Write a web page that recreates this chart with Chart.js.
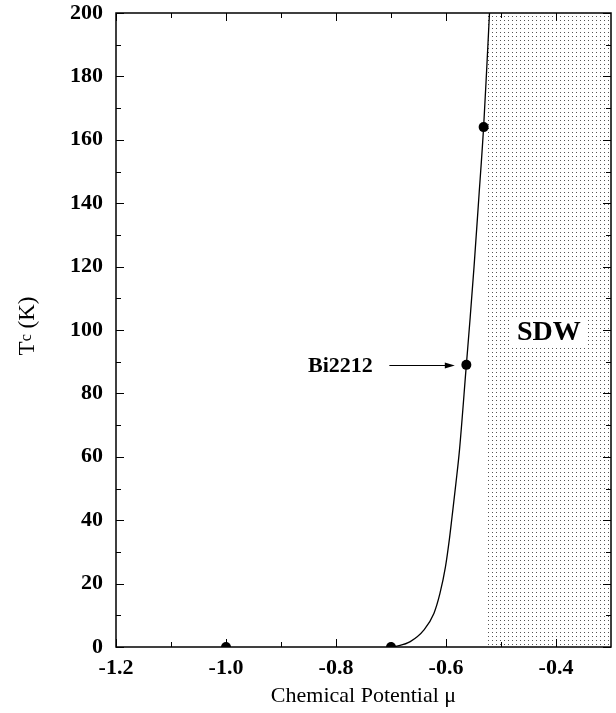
<!DOCTYPE html>
<html>
<head>
<meta charset="utf-8">
<script src="https://cdn.jsdelivr.net/npm/chart.js@4.4.1/dist/chart.umd.min.js"></script>
<style>
  html, body { margin: 0; padding: 0; background: #fff; }
</style>
</head>
<body>
<canvas id="tcChart" width="616" height="713"></canvas>
<script>
// Tc against chemical potential
const curveMu = [-0.700, -0.689, -0.665, -0.640, -0.622, -0.611, -0.601, -0.594, -0.589, -0.582, -0.5755, -0.563, -0.556, -0.549, -0.5406, -0.5316, -0.5258, -0.5209];
const curveTc = [0, 0.3, 1.7, 5.4, 10.6, 16.9, 25.3, 33.8, 41.1, 51.6, 62.1, 89, 104, 120, 141, 164, 183, 200];

const dotMu = [-1.0, -0.7, -0.563, -0.5316];
const dotTc = [0, 0, 89, 164];

// SDW region (dotted) spans the whole T range
const sdwMu = [-0.525, -0.3];
const sdwTc = [200, 200];

const xTicks = [-1.2, -1.0, -0.8, -0.6, -0.4];
const xMinor = [-1.1, -0.9, -0.7, -0.5];
const yTicks = [0, 20, 40, 60, 80, 100, 120, 140, 160, 180, 200];
const yMinor = [10, 30, 50, 70, 90, 110, 130, 150, 170, 190];

// annotation anchors, in data units
const bi2212Label = { mu: -0.733, tc: 89 };
const bi2212Arrow = { from: -0.703, to: -0.584, tc: 89 };
const sdwLabel = { mu: -0.413, tc: 99.4 };

const serif = '"Liberation Serif", "Times New Roman", serif';

const canvas = document.getElementById('tcChart');
const ctx = canvas.getContext('2d');

// small dot pattern for the SDW area
const tile = document.createElement('canvas');
tile.width = 4;
tile.height = 4;
const tctx = tile.getContext('2d');
tctx.fillStyle = '#555';
tctx.fillRect(0, 0, 1, 1);
const dotPattern = ctx.createPattern(tile, 'repeat');

const toPoints = (xs, ys) => xs.map((x, i) => ({ x: x, y: ys[i] }));

// frame, inward ticks, y title and text labels
const decorations = {
    id: 'decorations',
    afterDraw(chart) {
        const c = chart.ctx;
        const a = chart.chartArea;
        const xs = chart.scales.x;
        const ys = chart.scales.y;
        c.save();
        c.strokeStyle = '#000';
        c.lineWidth = 1.5;
        c.strokeRect(a.left, a.top, a.right - a.left, a.bottom - a.top);

        c.lineWidth = 1;
        c.beginPath();
        const xTick = (v, len) => {
            const p = Math.round(xs.getPixelForValue(v)) + 0.5;
            c.moveTo(p, a.bottom); c.lineTo(p, a.bottom - len);
            c.moveTo(p, a.top); c.lineTo(p, a.top + len);
        };
        const yTick = (v, len) => {
            const p = Math.round(ys.getPixelForValue(v)) + 0.5;
            c.moveTo(a.left, p); c.lineTo(a.left + len, p);
            c.moveTo(a.right, p); c.lineTo(a.right - len, p);
        };
        xTicks.forEach(v => xTick(v, 8));
        xMinor.forEach(v => xTick(v, 5));
        yTicks.forEach(v => yTick(v, 8));
        yMinor.forEach(v => yTick(v, 5));
        c.stroke();

        // y axis title: T with a small c, then (K)
        c.fillStyle = '#000';
        c.textBaseline = 'alphabetic';
        c.textAlign = 'left';
        const big = '23px ' + serif;
        const small = '16px ' + serif;
        c.font = big;
        const wT = c.measureText('T').width;
        const wK = c.measureText(' (K)').width;
        c.font = small;
        const wc = c.measureText('c').width;
        const total = wT + wc + wK;
        c.save();
        c.translate(34, (a.top + a.bottom) / 2 - 4);
        c.rotate(-Math.PI / 2);
        const x0 = -total / 2;
        c.font = big;
        c.fillText('T', x0, 0);
        c.font = small;
        c.fillText('c', x0 + wT, -3);
        c.font = big;
        c.fillText(' (K)', x0 + wT + wc, 0);
        c.restore();

        // Bi2212 label with arrow
        const yb = ys.getPixelForValue(bi2212Label.tc);
        c.font = 'bold 22px ' + serif;
        c.textAlign = 'right';
        c.textBaseline = 'middle';
        c.fillText('Bi2212', xs.getPixelForValue(bi2212Label.mu), yb + 1);
        const ax0 = xs.getPixelForValue(bi2212Arrow.from);
        const ax1 = xs.getPixelForValue(bi2212Arrow.to);
        const ay = Math.round(ys.getPixelForValue(bi2212Arrow.tc)) + 0.5;
        c.beginPath();
        c.moveTo(ax0, ay);
        c.lineTo(ax1 - 8, ay);
        c.stroke();
        c.beginPath();
        c.moveTo(ax1, ay);
        c.lineTo(ax1 - 10, ay - 3);
        c.lineTo(ax1 - 10, ay + 3);
        c.closePath();
        c.fill();

        // SDW label on a cleared patch
        const sx = xs.getPixelForValue(sdwLabel.mu);
        const sy = ys.getPixelForValue(sdwLabel.tc);
        c.font = 'bold 28px ' + serif;
        const ws = c.measureText('SDW').width;
        c.fillStyle = '#fff';
        c.fillRect(sx - ws / 2 - 5, sy - 14, ws + 10, 28);
        c.fillStyle = '#000';
        c.textAlign = 'center';
        c.textBaseline = 'middle';
        c.fillText('SDW', sx, sy + 1);
        c.restore();
    }
};

new Chart(ctx, {
    type: 'scatter',
    data: {
        datasets: [
            {
                label: 'SDW',
                data: toPoints(sdwMu, sdwTc),
                showLine: true,
                fill: 'origin',
                backgroundColor: dotPattern,
                borderWidth: 0,
                pointRadius: 0,
                order: 3,
            },
            {
                label: 'Tc',
                data: toPoints(curveMu, curveTc),
                showLine: true,
                borderColor: '#000',
                borderWidth: 1.3,
                pointRadius: 0,
                cubicInterpolationMode: 'monotone',
                clip: 0,
                order: 2,
            },
            {
                label: 'data',
                data: toPoints(dotMu, dotTc),
                showLine: false,
                backgroundColor: '#000',
                borderColor: '#000',
                pointRadius: 5,
                pointBorderWidth: 0,
                clip: 0,
                order: 1,
            },
        ],
    },
    options: {
        responsive: false,
        animation: false,
        devicePixelRatio: 1,
        layout: { padding: { top: 0, right: 2, left: 0, bottom: 0 } },
        plugins: {
            legend: { display: false },
            tooltip: { enabled: false },
        },
        scales: {
            x: {
                type: 'linear',
                min: -1.2,
                max: -0.3,
                afterBuildTicks: (s) => { s.ticks = xTicks.map(v => ({ value: v })); },
                afterFit: (s) => { s.height = 66; },
                grid: { display: false, drawTicks: false },
                border: { display: false },
                ticks: {
                    color: '#000',
                    padding: 8,
                    font: { family: serif, size: 22, weight: 'bold' },
                    callback: (v) => v.toFixed(1),
                },
                title: {
                    display: true,
                    text: 'Chemical Potential μ',
                    color: '#000',
                    font: { family: serif, size: 22 },
                    padding: { top: 0, bottom: 4 },
                },
            },
            y: {
                type: 'linear',
                min: 0,
                max: 200,
                afterBuildTicks: (s) => { s.ticks = yTicks.map(v => ({ value: v })); },
                afterFit: (s) => { s.width = 116; s.paddingTop = 13; s.paddingBottom = 0; },
                grid: { display: false, drawTicks: false },
                border: { display: false },
                ticks: {
                    color: '#000',
                    padding: 13,
                    font: { family: serif, size: 22, weight: 'bold' },
                    callback: (v) => String(v),
                },
            },
        },
    },
    plugins: [decorations],
});
</script>
</body>
</html>
